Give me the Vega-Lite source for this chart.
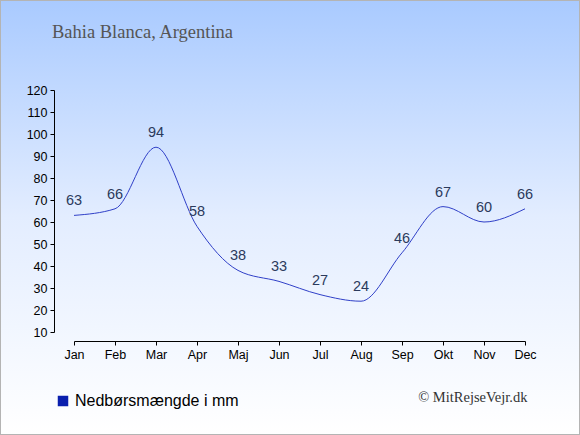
{
  "$schema": "https://vega.github.io/schema/vega-lite/v6.json",
  "width": 580,
  "height": 435,
  "autosize": "none",
  "padding": 0,
  "title": {
    "text": "Bahia Blanca, Argentina",
    "anchor": "start",
    "frame": "group",
    "orient": "top",
    "offset": 0,
    "baseline": "alphabetic",
    "dx": 52,
    "dy": 57,
    "font": "Liberation Serif",
    "fontSize": 18.5,
    "fontWeight": "normal",
    "color": "#555555"
  },
  "config": {
    "view": {"stroke": null},
    "axis": {
      "labelFont": "Liberation Sans",
      "labelFontSize": 12.5,
      "labelColor": "#000000",
      "domainColor": "#000000",
      "tickColor": "#000000",
      "grid": false
    }
  },
  "datasets": {
    "rain": [
      {"month": "Jan", "mm": 63},
      {"month": "Feb", "mm": 66},
      {"month": "Mar", "mm": 94},
      {"month": "Apr", "mm": 58},
      {"month": "Maj", "mm": 38},
      {"month": "Jun", "mm": 33},
      {"month": "Jul", "mm": 27},
      {"month": "Aug", "mm": 24},
      {"month": "Sep", "mm": 46},
      {"month": "Okt", "mm": 67},
      {"month": "Nov", "mm": 60},
      {"month": "Dec", "mm": 66}
    ]
  },
  "layer": [
    {
      "data": {"values": [{"bg": 1}]},
      "mark": {
        "type": "rect",
        "stroke": "#b4b4b4",
        "strokeWidth": 2,
        "fill": {
          "gradient": "linear",
          "x1": 0, "y1": 0, "x2": 0, "y2": 1,
          "stops": [
            {"offset": 0, "color": "#a9caff"},
            {"offset": 0.5, "color": "#e3edff"},
            {"offset": 1, "color": "#ffffff"}
          ]
        }
      },
      "encoding": {}
    },
    {
      "data": {"name": "rain"},
      "encoding": {
        "x": {
          "field": "month",
          "type": "ordinal",
          "sort": null,
          "scale": {"type": "point", "range": [74, 525], "padding": 0},
          "axis": {
            "orient": "bottom",
            "offset": -94,
            "zindex": 1,
            "labelAngle": 0,
            "tickSize": 4,
            "labelPadding": 3,
            "title": "© MitRejseVejr.dk",
            "titleFont": "Liberation Serif",
            "titleFontSize": 14.5,
            "titleFontWeight": "normal",
            "titleColor": "#333333",
            "titleAnchor": "end",
            "titleAlign": "right",
            "titleBaseline": "alphabetic",
            "titleX": 527,
            "titleY": 60
          }
        },
        "y": {
          "field": "mm",
          "type": "quantitative",
          "scale": {"domain": [10, 120], "range": [332, 90], "nice": false, "zero": false},
          "axis": {
            "orient": "left",
            "offset": -54,
            "zindex": 1,
            "values": [10, 20, 30, 40, 50, 60, 70, 80, 90, 100, 110, 120],
            "tickSize": 4,
            "labelPadding": 3,
            "title": null
          }
        }
      },
      "layer": [
        {
          "mark": {"type": "line", "interpolate": "monotone", "strokeWidth": 1},
          "encoding": {
            "color": {
              "datum": "Nedbørsmængde i mm",
              "type": "nominal",
              "scale": {"range": ["#3040c8"]},
              "legend": {
                "orient": "none",
                "legendX": 55,
                "legendY": 393,
                "title": null,
                "symbolType": "square",
                "symbolSize": 110,
                "labelFont": "Liberation Sans",
                "labelFontSize": 16,
                "labelLimit": 400,
                "labelColor": "#000000",
                "labelOffset": 4,
                "encode": {
                  "symbols": {
                    "update": {
                      "fill": {"value": "#0a1fae"},
                      "stroke": {"value": "#0a1fae"},
                      "strokeWidth": {"value": 0}
                    }
                  }
                }
              }
            }
          }
        },
        {
          "mark": {
            "type": "text",
            "dy": -14,
            "baseline": "middle",
            "font": "Liberation Sans",
            "fontSize": 14.5,
            "color": "#2b3a5c"
          },
          "encoding": {
            "text": {"field": "mm", "type": "quantitative"}
          }
        }
      ]
    }
  ]
}
